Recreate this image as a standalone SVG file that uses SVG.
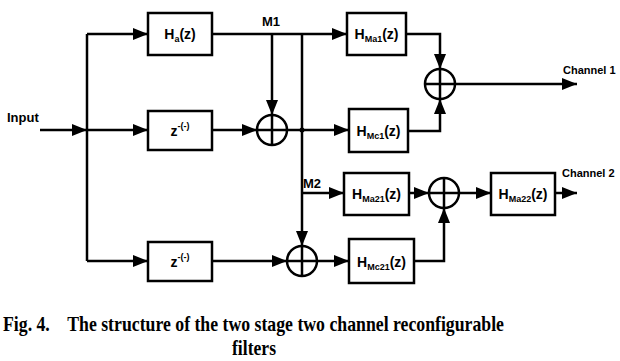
<svg xmlns="http://www.w3.org/2000/svg" width="620" height="361" viewBox="0 0 620 361">
<style>
.box{fill:#fff;stroke:#000;stroke-width:2.5}
.sum{fill:#fff;stroke:#000;stroke-width:2.5}
.c{fill:none;stroke:#000;stroke-width:2.5;marker-end:url(#ah)}
.w{fill:none;stroke:#000;stroke-width:2.5}
.t{font-family:"Liberation Sans",Arial,sans-serif;font-weight:bold;fill:#000}
.bl{font-size:14px;text-anchor:middle}
.sub{font-size:9px}
.cap{font-family:"Liberation Serif","Times New Roman",serif;font-weight:bold;font-size:21px;fill:#000}
</style>
<defs>
<marker id="ah" markerUnits="userSpaceOnUse" markerWidth="16" markerHeight="12" refX="15" refY="6" orient="auto">
<path d="M0,0 L15,6 L0,12 z" fill="#000"/>
</marker>
</defs>
<rect width="620" height="361" fill="#fff"/>
<g id="connectors">
<line class="c" x1="40" y1="130" x2="87" y2="130"/>
<line class="w" x1="87" y1="34" x2="87" y2="261"/>
<line class="c" x1="87" y1="34" x2="148" y2="34"/>
<line class="c" x1="87" y1="130" x2="148" y2="130"/>
<line class="c" x1="87" y1="261" x2="148" y2="261"/>
<line class="c" x1="212" y1="34" x2="347" y2="34"/>
<line class="c" x1="272" y1="34" x2="272" y2="115"/>
<line class="c" x1="302" y1="34" x2="302" y2="246"/>
<line class="c" x1="212" y1="130" x2="257" y2="130"/>
<line class="c" x1="287" y1="130" x2="349" y2="130"/>
<circle cx="302" cy="130" r="2.5" fill="#000"/>
<polyline class="c" points="406,34 440,34 440,69"/>
<polyline class="c" points="408,131 440,131 440,99"/>
<line class="c" x1="455" y1="84" x2="577" y2="84"/>
<line class="c" x1="302" y1="193" x2="344" y2="193"/>
<line class="c" x1="409" y1="193" x2="429" y2="193"/>
<line class="c" x1="459" y1="193" x2="491" y2="193"/>
<line class="c" x1="555" y1="193" x2="577" y2="193"/>
<line class="c" x1="212" y1="261" x2="287" y2="261"/>
<line class="c" x1="317" y1="261" x2="349" y2="261"/>
<polyline class="c" points="414,261 444,261 444,208"/>
</g>
<g id="input"><text class="t" x="7" y="122" font-size="13">Input</text></g>
<g id="Ha"><rect class="box" x="148" y="13" width="64" height="42"/><text class="t bl" x="180" y="39">H<tspan class="sub" dy="3">a</tspan><tspan dy="-3">(z)</tspan></text></g>
<g id="z1"><rect class="box" x="148" y="111" width="64" height="39"/><text class="t bl" x="180" y="136">z<tspan class="sub" dy="-7">-(-)</tspan></text></g>
<g id="z2"><rect class="box" x="148" y="242" width="64" height="39"/><text class="t bl" x="180" y="267">z<tspan class="sub" dy="-7">-(-)</tspan></text></g>
<g id="sum1"><circle class="sum" cx="272" cy="130" r="15"/><path class="w" d="M257,130 H287 M272,115 V145"/></g>
<g id="sum4"><circle class="sum" cx="302" cy="261" r="15"/><path class="w" d="M287,261 H317 M302,246 V276"/></g>
<g id="sum2"><circle class="sum" cx="440" cy="84" r="15"/><path class="w" d="M425,84 H455 M440,69 V99"/></g>
<g id="sum3"><circle class="sum" cx="444" cy="193" r="15"/><path class="w" d="M429,193 H459 M444,178 V208"/></g>
<g id="HMa1"><rect class="box" x="347" y="13" width="59" height="42"/><text class="t bl" x="376.5" y="39">H<tspan class="sub" dy="3">Ma1</tspan><tspan dy="-3">(z)</tspan></text></g>
<g id="HMc1"><rect class="box" x="349" y="109" width="59" height="43"/><text class="t bl" x="378.5" y="136">H<tspan class="sub" dy="3">Mc1</tspan><tspan dy="-3">(z)</tspan></text></g>
<g id="HMa21"><rect class="box" x="344" y="173" width="65" height="42"/><text class="t bl" x="376.5" y="199">H<tspan class="sub" dy="3">Ma21</tspan><tspan dy="-3">(z)</tspan></text></g>
<g id="HMa22"><rect class="box" x="491" y="173" width="64" height="42"/><text class="t bl" x="523" y="199">H<tspan class="sub" dy="3">Ma22</tspan><tspan dy="-3">(z)</tspan></text></g>
<g id="HMc21"><rect class="box" x="349" y="239" width="65" height="44"/><text class="t bl" x="381.5" y="267">H<tspan class="sub" dy="3">Mc21</tspan><tspan dy="-3">(z)</tspan></text></g>
<g id="labels">
<text class="t" x="262" y="26" font-size="13">M1</text>
<text class="t" x="303" y="188" font-size="13">M2</text>
<text class="t" x="563" y="74" font-size="11">Channel 1</text>
<text class="t" x="562" y="177" font-size="11">Channel 2</text>
</g>
<g id="caption">
<text class="cap" x="3" y="331" textLength="501" lengthAdjust="spacingAndGlyphs" xml:space="preserve">Fig. 4.    The structure of the two stage two channel reconfigurable</text>
<text class="cap" x="232" y="355" textLength="44" lengthAdjust="spacingAndGlyphs">filters</text>
</g>
</svg>
